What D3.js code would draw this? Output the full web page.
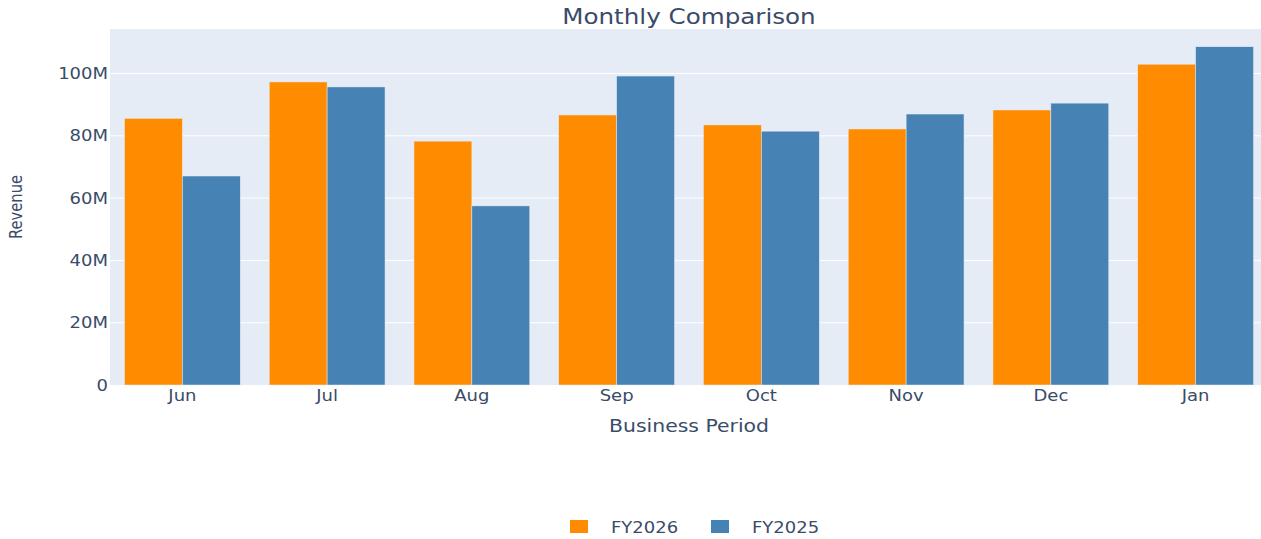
<!DOCTYPE html>
<html>
<head>
<meta charset="utf-8">
<script src="https://cdn.jsdelivr.net/npm/d3@7"></script>
<style>
  body { margin: 0; background: #fff; }
  text { font-family: "DejaVu Sans", Verdana, sans-serif; fill: #3a4b69; }
</style>
</head>
<body>
<div id="chart"></div>
<script>
// data
var months = ["Jun", "Jul", "Aug", "Sep", "Oct", "Nov", "Dec", "Jan"];
var seriesNames = ["FY2026", "FY2025"];
var fy2026 = [85.6, 97.3, 78.3, 86.7, 83.5, 82.2, 88.3, 103.0];
var fy2025 = [67.1, 95.7, 57.5, 99.2, 81.5, 87.0, 90.5, 108.6];
var yTicks = [0, 20, 40, 60, 80, 100];
var colors = ["#ff8c00", "#4682b4"];

var W = 1261, H = 539;
var margin = {top: 29, right: -7, bottom: 154, left: 110};
var width = W - margin.left - margin.right;
var height = H - margin.top - margin.bottom;
var stretch = 1.2; // text in the reference is drawn wide

var svg = d3.select("#chart")
    .append("svg")
    .attr("width", W)
    .attr("height", H);

var rows = months.map(function (m, i) {
    return {month: m, values: [fy2026[i], fy2025[i]]};
});

var x = d3.scaleBand()
    .domain(months)
    .range([0, width])
    .paddingInner(0.2)
    .paddingOuter(0.1);

var x1 = d3.scaleBand()
    .domain(d3.range(seriesNames.length))
    .range([0, x.bandwidth()]);

var y = d3.scaleLinear()
    .domain([0, 114.3])
    .range([height, 0]);

var g = svg.append("g")
    .attr("transform", "translate(" + margin.left + "," + margin.top + ")");

g.append("rect")
    .attr("width", width)
    .attr("height", height)
    .attr("fill", "#e5ecf6");

// grid lines
g.selectAll(".grid")
    .data(yTicks.slice(1))
    .enter().append("line")
    .attr("class", "grid")
    .attr("x1", 0)
    .attr("x2", width)
    .attr("y1", function (d) { return y(d); })
    .attr("y2", function (d) { return y(d); })
    .attr("stroke", "#fff")
    .attr("stroke-width", 1);

// bars
var groups = g.selectAll(".month")
    .data(rows)
    .enter().append("g")
    .attr("class", "month")
    .attr("transform", function (d) { return "translate(" + x(d.month) + ",0)"; });

groups.selectAll("rect")
    .data(function (d) { return d.values; })
    .enter().append("rect")
    .attr("x", function (d, i) { return x1(i); })
    .attr("width", x1.bandwidth())
    .attr("y", function (d) { return y(d); })
    .attr("height", function (d) { return height - y(d); })
    .attr("fill", function (d, i) { return colors[i]; })
    .attr("stroke", "#e5ecf6")
    .attr("stroke-width", 0.5);

// y tick labels
g.selectAll(".ylab")
    .data(yTicks)
    .enter().append("text")
    .attr("class", "ylab")
    .attr("transform", function (d) {
        return "translate(-2," + (y(d) + 5.5) + ") scale(" + stretch + ",1)";
    })
    .attr("text-anchor", "end")
    .style("font-size", "15px")
    .text(function (d) { return d === 0 ? "0" : d + "M"; });

// x tick labels
g.selectAll(".xlab")
    .data(months)
    .enter().append("text")
    .attr("class", "xlab")
    .attr("transform", function (d) {
        return "translate(" + (x(d) + x.bandwidth() / 2) + "," + (height + 16) + ") scale(" + stretch + ",1)";
    })
    .attr("text-anchor", "middle")
    .style("font-size", "15px")
    .text(function (d) { return d; });

// axis titles
g.append("text")
    .attr("transform", "translate(" + (width / 2) + "," + (height + 47) + ") scale(" + stretch + ",1)")
    .attr("text-anchor", "middle")
    .style("font-size", "17px")
    .text("Business Period");

svg.append("text")
    .attr("transform", "translate(22," + (margin.top + height / 2) + ") rotate(-90) scale(0.95,1.15)")
    .attr("text-anchor", "middle")
    .style("font-size", "15.5px")
    .text("Revenue");

// title
svg.append("text")
    .attr("transform", "translate(" + (margin.left + width / 2) + ",24) scale(" + stretch + ",1)")
    .attr("text-anchor", "middle")
    .style("font-size", "20.5px")
    .text("Monthly Comparison");

// legend
var legend = svg.selectAll(".legend")
    .data(seriesNames)
    .enter().append("g")
    .attr("class", "legend")
    .attr("transform", function (d, i) { return "translate(" + (570 + i * 141) + ",520)"; });

legend.append("rect")
    .attr("width", 18)
    .attr("height", 13)
    .attr("fill", function (d, i) { return colors[i]; });

legend.append("text")
    .attr("transform", "translate(41,12.5) scale(" + stretch + ",1)")
    .style("font-size", "15px")
    .text(function (d) { return d; });
</script>
</body>
</html>
